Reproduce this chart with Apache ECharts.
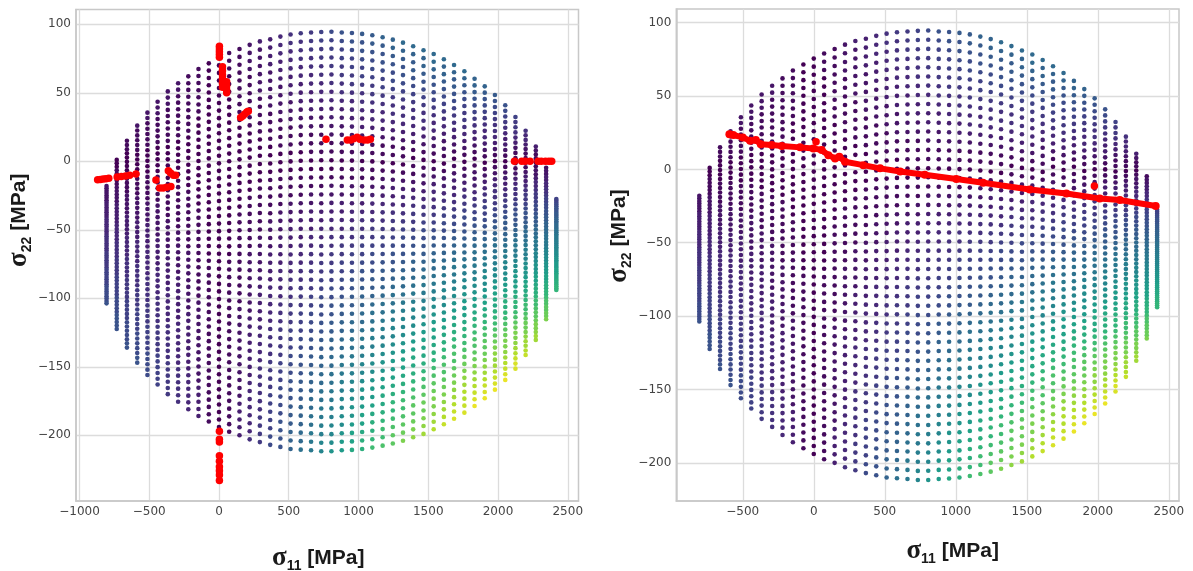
<!DOCTYPE html>
<html>
<head>
<meta charset="utf-8">
<style>html,body{margin:0;padding:0;background:#fff}#c{width:1193px;height:571px}</style>
<script src="https://cdn.jsdelivr.net/npm/echarts@6/dist/echarts.min.js"></script>
</head>
<body>
<div id="c"></div>
<script>
// sigma_11 of each vertical column of the failure envelope (MPa)
const sigma11Columns = [-806,-733,-660,-586,-513,-440,-367,-293,-220,-147,-73,0,73,147,220,293,367,440,513,586,660,733,806,880,953,1026,1099,1173,1246,1319,1392,1466,1539,1612,1685,1759,1832,1905,1978,2052,2125,2198,2271,2345,2418];
// sigma_22 of the 50 dots in each column (MPa)
const sigma22ByColumn = [
[-18,-19.7,-21.5,-23.2,-25,-26.7,-28.5,-30.2,-32,-33.7,-35.5,-37.2,-39,-40.7,-42.5,-44.2,-46,-47.7,-49.5,-51.2,-53,-54.7,-56.5,-58.2,-60,-61.7,-63.5,-65.2,-67,-68.7,-70.5,-72.2,-74,-75.7,-77.5,-79.2,-81,-82.7,-84.5,-86.2,-88,-89.7,-91.5,-93.2,-95,-96.7,-98.5,-100.2,-102,-103.7],
[1,-1.5,-4,-6.6,-9.1,-11.6,-14.1,-16.6,-19.1,-21.7,-24.2,-26.7,-29.2,-31.7,-34.3,-36.8,-39.3,-41.8,-44.3,-46.8,-49.4,-51.9,-54.4,-56.9,-59.4,-61.9,-64.5,-67,-69.5,-72,-74.5,-77.1,-79.6,-82.1,-84.6,-87.1,-89.6,-92.2,-94.7,-97.2,-99.7,-102.2,-104.8,-107.3,-109.8,-112.3,-114.8,-117.3,-119.9,-122.4],
[15,11.9,8.8,5.8,2.7,-0.4,-3.5,-6.6,-9.7,-12.7,-15.8,-18.9,-22,-25.1,-28.1,-31.2,-34.3,-37.4,-40.5,-43.6,-46.6,-49.7,-52.8,-55.9,-59,-62.1,-65.1,-68.2,-71.3,-74.4,-77.5,-80.5,-83.6,-86.7,-89.8,-92.9,-96,-99,-102.1,-105.2,-108.3,-111.4,-114.4,-117.5,-120.6,-123.7,-126.8,-129.9,-132.9,-136],
[26,22.5,18.9,15.4,11.9,8.3,4.8,1.3,-2.2,-5.8,-9.3,-12.8,-16.4,-19.9,-23.4,-27,-30.5,-34,-37.6,-41.1,-44.6,-48.2,-51.7,-55.2,-58.7,-62.3,-65.8,-69.3,-72.9,-76.4,-79.9,-83.5,-87,-90.5,-94.1,-97.6,-101.1,-104.6,-108.2,-111.7,-115.2,-118.8,-122.3,-125.8,-129.4,-132.9,-136.4,-140,-143.5,-147],
[35.5,31.6,27.7,23.8,19.9,16,12.1,8.1,4.2,0.3,-3.6,-7.5,-11.4,-15.3,-19.2,-23.1,-27,-30.9,-34.8,-38.8,-42.7,-46.6,-50.5,-54.4,-58.3,-62.2,-66.1,-70,-73.9,-77.8,-81.7,-85.6,-89.6,-93.5,-97.4,-101.3,-105.2,-109.1,-113,-116.9,-120.8,-124.7,-128.6,-132.5,-136.5,-140.4,-144.3,-148.2,-152.1,-156],
[43.5,39.3,35.1,30.9,26.6,22.4,18.2,14,9.8,5.6,1.4,-2.9,-7.1,-11.3,-15.5,-19.7,-23.9,-28.1,-32.4,-36.6,-40.8,-45,-49.2,-53.4,-57.6,-61.9,-66.1,-70.3,-74.5,-78.7,-82.9,-87.1,-91.3,-95.6,-99.8,-104,-108.2,-112.4,-116.6,-120.8,-125.1,-129.3,-133.5,-137.7,-141.9,-146.1,-150.3,-154.6,-158.8,-163],
[51,46.5,42,37.5,33,28.5,23.9,19.4,14.9,10.4,5.9,1.4,-3.1,-7.6,-12.1,-16.7,-21.2,-25.7,-30.2,-34.7,-39.2,-43.7,-48.2,-52.7,-57.2,-61.8,-66.3,-70.8,-75.3,-79.8,-84.3,-88.8,-93.3,-97.8,-102.3,-106.9,-111.4,-115.9,-120.4,-124.9,-129.4,-133.9,-138.4,-142.9,-147.4,-152,-156.5,-161,-165.5,-170],
[57,52.3,47.5,42.8,38,33.3,28.5,23.8,19,14.3,9.5,4.8,0,-4.7,-9.4,-14.2,-18.9,-23.7,-28.4,-33.2,-37.9,-42.6,-47.4,-52.1,-56.9,-61.6,-66.4,-71.1,-75.9,-80.6,-85.4,-90.1,-94.8,-99.6,-104.3,-109.1,-113.8,-118.6,-123.3,-128.1,-132.8,-137.5,-142.3,-147,-151.8,-156.5,-161.3,-166,-170.8,-175.5],
[62,57,52.1,47.1,42.2,37.2,32.2,27.3,22.3,17.4,12.4,7.5,2.5,-2.5,-7.4,-12.4,-17.3,-22.3,-27.3,-32.2,-37.2,-42.1,-47.1,-52.1,-57,-62,-66.9,-71.9,-76.9,-81.8,-86.8,-91.7,-96.7,-101.6,-106.6,-111.6,-116.5,-121.5,-126.4,-131.4,-136.4,-141.3,-146.3,-151.2,-156.2,-161.2,-166.1,-171.1,-176,-181],
[67.4,62.2,57.1,51.9,46.7,41.5,36.4,31.2,26,20.9,15.7,10.5,5.3,0.2,-5,-10.2,-15.3,-20.5,-25.7,-30.8,-36,-41.2,-46.4,-51.5,-56.7,-61.9,-67,-72.2,-77.4,-82.6,-87.7,-92.9,-98.1,-103.2,-108.4,-113.6,-118.8,-123.9,-129.1,-134.3,-139.4,-144.6,-149.8,-155,-160.1,-165.3,-170.5,-175.6,-180.8,-186],
[71.5,66.2,60.8,55.5,50.2,44.8,39.5,34.1,28.8,23.5,18.1,12.8,7.5,2.1,-3.2,-8.6,-13.9,-19.2,-24.6,-29.9,-35.2,-40.6,-45.9,-51.3,-56.6,-61.9,-67.3,-72.6,-77.9,-83.3,-88.6,-94,-99.3,-104.6,-110,-115.3,-120.6,-126,-131.3,-136.6,-142,-147.3,-152.7,-158,-163.3,-168.7,-174,-179.3,-184.7,-190],
[75.5,70,64.5,59,53.5,48,42.5,37,31.5,26,20.5,15,9.5,4,-1.5,-7,-12.5,-18,-23.5,-29,-34.5,-40,-45.5,-51,-56.5,-62,-67.5,-73,-78.5,-84,-89.5,-95,-100.5,-106,-111.5,-117,-122.5,-128,-133.5,-139,-144.5,-150,-155.5,-161,-166.5,-172,-177.5,-183,-188.5,-194],
[79,73.4,67.7,62.1,56.4,50.8,45.1,39.5,33.9,28.2,22.6,16.9,11.3,5.6,0,-5.6,-11.3,-16.9,-22.6,-28.2,-33.9,-39.5,-45.1,-50.8,-56.4,-62.1,-67.7,-73.4,-79,-84.6,-90.3,-95.9,-101.6,-107.2,-112.9,-118.5,-124.1,-129.8,-135.4,-141.1,-146.7,-152.4,-158,-163.6,-169.3,-174.9,-180.6,-186.2,-191.9,-197.5],
[82,76.2,70.5,64.7,59,53.2,47.5,41.7,36,30.2,24.5,18.7,12.9,7.2,1.4,-4.3,-10.1,-15.8,-21.6,-27.3,-33.1,-38.9,-44.6,-50.4,-56.1,-61.9,-67.6,-73.4,-79.1,-84.9,-90.7,-96.4,-102.2,-107.9,-113.7,-119.4,-125.2,-130.9,-136.7,-142.4,-148.2,-154,-159.7,-165.5,-171.2,-177,-182.7,-188.5,-194.2,-200],
[85,79.1,73.2,67.4,61.5,55.6,49.7,43.9,38,32.1,26.2,20.3,14.5,8.6,2.7,-3.2,-9,-14.9,-20.8,-26.7,-32.6,-38.4,-44.3,-50.2,-56.1,-61.9,-67.8,-73.7,-79.6,-85.4,-91.3,-97.2,-103.1,-109,-114.8,-120.7,-126.6,-132.5,-138.3,-144.2,-150.1,-156,-161.9,-167.7,-173.6,-179.5,-185.4,-191.2,-197.1,-203],
[87.5,81.5,75.6,69.6,63.6,57.7,51.7,45.7,39.8,33.8,27.8,21.8,15.9,9.9,4,-2,-8,-14,-19.9,-25.9,-31.9,-37.8,-43.8,-49.8,-55.8,-61.7,-67.7,-73.7,-79.6,-85.6,-91.6,-97.5,-103.5,-109.5,-115.4,-121.4,-127.4,-133.4,-139.3,-145.3,-151.3,-157.2,-163.2,-169.2,-175.1,-181.1,-187.1,-193,-199,-205],
[89,83,76.9,70.9,64.8,58.8,52.8,46.7,40.7,34.6,28.6,22.5,16.5,10.5,4.4,-1.6,-7.7,-13.7,-19.7,-25.8,-31.8,-37.9,-43.9,-50,-56,-62,-68.1,-74.1,-80.2,-86.2,-92.2,-98.3,-104.3,-110.4,-116.4,-122.4,-128.5,-134.5,-140.6,-146.6,-152.6,-158.7,-164.7,-170.8,-176.8,-182.8,-188.9,-194.9,-201,-207],
[91,84.9,78.8,72.7,66.6,60.4,54.3,48.2,42.1,36,29.9,23.8,17.7,11.5,5.4,-0.7,-6.8,-12.9,-19,-25.1,-31.2,-37.4,-43.5,-49.6,-55.7,-61.8,-67.9,-74,-80.1,-86.2,-92.4,-98.5,-104.6,-110.7,-116.8,-122.9,-129,-135.1,-141.3,-147.4,-153.5,-159.6,-165.7,-171.8,-177.9,-184,-190.2,-196.3,-202.4,-208.5],
[92.5,86.3,80.2,74,67.8,61.6,55.5,49.3,43.1,36.9,30.8,24.6,18.4,12.3,6.1,-0.1,-6.3,-12.4,-18.6,-24.8,-31,-37.1,-43.3,-49.5,-55.7,-61.8,-68,-74.2,-80.3,-86.5,-92.7,-98.9,-105,-111.2,-117.4,-123.6,-129.7,-135.9,-142.1,-148.2,-154.4,-160.6,-166.8,-172.9,-179.1,-185.3,-191.5,-197.6,-203.8,-210],
[93.5,87.3,81.1,74.9,68.7,62.5,56.3,50.1,43.9,37.7,31.5,25.3,19.1,12.9,6.6,0.4,-5.8,-12,-18.2,-24.4,-30.6,-36.8,-43,-49.2,-55.4,-61.6,-67.8,-74,-80.2,-86.4,-92.6,-98.8,-105,-111.2,-117.4,-123.6,-129.8,-136,-142.2,-148.5,-154.7,-160.9,-167.1,-173.3,-179.5,-185.7,-191.9,-198.1,-204.3,-210.5],
[94,87.8,81.6,75.3,69.1,62.9,56.7,50.4,44.2,38,31.8,25.5,19.3,13.1,6.9,0.6,-5.6,-11.8,-18,-24.3,-30.5,-36.7,-42.9,-49.2,-55.4,-61.6,-67.8,-74,-80.3,-86.5,-92.7,-98.9,-105.2,-111.4,-117.6,-123.8,-130.1,-136.3,-142.5,-148.7,-155,-161.2,-167.4,-173.6,-179.9,-186.1,-192.3,-198.5,-204.8,-211],
[94.4,88.2,81.9,75.7,69.4,63.2,56.9,50.7,44.4,38.2,31.9,25.7,19.4,13.2,6.9,0.7,-5.6,-11.8,-18.1,-24.3,-30.6,-36.8,-43,-49.3,-55.5,-61.8,-68,-74.3,-80.5,-86.8,-93,-99.3,-105.5,-111.8,-118,-124.3,-130.5,-136.8,-143,-149.3,-155.5,-161.8,-168,-174.2,-180.5,-186.7,-193,-199.2,-205.5,-211.7],
[94.6,88.3,82.1,75.8,69.6,63.3,57.1,50.8,44.6,38.3,32.1,25.8,19.6,13.3,7.1,0.8,-5.4,-11.7,-17.9,-24.2,-30.4,-36.7,-42.9,-49.2,-55.4,-61.7,-67.9,-74.2,-80.4,-86.7,-92.9,-99.2,-105.4,-111.7,-117.9,-124.2,-130.4,-136.7,-142.9,-149.2,-155.4,-161.7,-167.9,-174.2,-180.4,-186.7,-192.9,-199.2,-205.4,-211.7],
[94,87.8,81.6,75.3,69.1,62.9,56.7,50.4,44.2,38,31.8,25.5,19.3,13.1,6.9,0.6,-5.6,-11.8,-18,-24.3,-30.5,-36.7,-42.9,-49.2,-55.4,-61.6,-67.8,-74,-80.3,-86.5,-92.7,-98.9,-105.2,-111.4,-117.6,-123.8,-130.1,-136.3,-142.5,-148.7,-155,-161.2,-167.4,-173.6,-179.9,-186.1,-192.3,-198.5,-204.8,-211],
[93.6,87.4,81.2,75,68.8,62.6,56.3,50.1,43.9,37.7,31.5,25.3,19.1,12.9,6.7,0.5,-5.8,-12,-18.2,-24.4,-30.6,-36.8,-43,-49.2,-55.4,-61.6,-67.9,-74.1,-80.3,-86.5,-92.7,-98.9,-105.1,-111.3,-117.5,-123.7,-130,-136.2,-142.4,-148.6,-154.8,-161,-167.2,-173.4,-179.6,-185.8,-192.1,-198.3,-204.5,-210.7],
[93,86.8,80.6,74.4,68.3,62.1,55.9,49.7,43.5,37.3,31.2,25,18.8,12.6,6.4,0.2,-5.9,-12.1,-18.3,-24.5,-30.7,-36.9,-43,-49.2,-55.4,-61.6,-67.8,-74,-80.2,-86.3,-92.5,-98.7,-104.9,-111.1,-117.3,-123.4,-129.6,-135.8,-142,-148.2,-154.4,-160.5,-166.7,-172.9,-179.1,-185.3,-191.5,-197.6,-203.8,-210],
[92,85.9,79.7,73.6,67.4,61.3,55.1,49,42.9,36.7,30.6,24.4,18.3,12.1,6,-0.1,-6.3,-12.4,-18.6,-24.7,-30.9,-37,-43.1,-49.3,-55.4,-61.6,-67.7,-73.9,-80,-86.1,-92.3,-98.4,-104.6,-110.7,-116.9,-123,-129.1,-135.3,-141.4,-147.6,-153.7,-159.9,-166,-172.1,-178.3,-184.4,-190.6,-196.7,-202.9,-209],
[90.5,84.4,78.3,72.2,66.2,60.1,54,47.9,41.8,35.8,29.7,23.6,17.5,11.4,5.3,-0.8,-6.8,-12.9,-19,-25.1,-31.2,-37.3,-43.3,-49.4,-55.5,-61.6,-67.7,-73.8,-79.9,-85.9,-92,-98.1,-104.2,-110.3,-116.4,-122.4,-128.5,-134.6,-140.7,-146.8,-152.9,-159,-165,-171.1,-177.2,-183.3,-189.4,-195.5,-201.5,-207.6],
[88.8,82.8,76.8,70.8,64.7,58.7,52.7,46.7,40.7,34.7,28.6,22.6,16.6,10.6,4.6,-1.4,-7.5,-13.5,-19.5,-25.5,-31.5,-37.5,-43.6,-49.6,-55.6,-61.6,-67.6,-73.6,-79.6,-85.7,-91.7,-97.7,-103.7,-109.7,-115.7,-121.8,-127.8,-133.8,-139.8,-145.8,-151.8,-157.9,-163.9,-169.9,-175.9,-181.9,-187.9,-194,-200,-206],
[86.6,80.7,74.7,68.8,62.9,56.9,51,45.1,39.2,33.2,27.3,21.4,15.4,9.5,3.6,-2.4,-8.3,-14.2,-20.2,-26.1,-32,-38,-43.9,-49.8,-55.7,-61.7,-67.6,-73.5,-79.5,-85.4,-91.3,-97.3,-103.2,-109.1,-115.1,-121,-126.9,-132.8,-138.8,-144.7,-150.6,-156.6,-162.5,-168.4,-174.4,-180.3,-186.2,-192.2,-198.1,-204],
[84,78.2,72.3,66.5,60.7,54.9,49,43.2,37.4,31.6,25.7,19.9,14.1,8.2,2.4,-3.4,-9.2,-15.1,-20.9,-26.7,-32.5,-38.4,-44.2,-50,-55.9,-61.7,-67.5,-73.3,-79.2,-85,-90.8,-96.6,-102.5,-108.3,-114.1,-120,-125.8,-131.6,-137.4,-143.3,-149.1,-154.9,-160.7,-166.6,-172.4,-178.2,-184.1,-189.9,-195.7,-201.5],
[81,75.3,69.6,63.9,58.1,52.4,46.7,41,35.3,29.6,23.9,18.1,12.4,6.7,1,-4.7,-10.4,-16.1,-21.9,-27.6,-33.3,-39,-44.7,-50.4,-56.1,-61.9,-67.6,-73.3,-79,-84.7,-90.4,-96.1,-101.9,-107.6,-113.3,-119,-124.7,-130.4,-136.1,-141.9,-147.6,-153.3,-159,-164.7,-170.4,-176.1,-181.9,-187.6,-193.3,-199],
[78.3,72.7,67.1,61.5,55.9,50.4,44.8,39.2,33.6,28,22.4,16.8,11.2,5.6,0,-5.6,-11.1,-16.7,-22.3,-27.9,-33.5,-39.1,-44.7,-50.3,-55.9,-61.5,-67.1,-72.7,-78.2,-83.8,-89.4,-95,-100.6,-106.2,-111.8,-117.4,-123,-128.6,-134.1,-139.7,-145.3,-150.9,-156.5,-162.1,-167.7,-173.3,-178.9,-184.5,-190.1,-195.6],
[74.5,69.1,63.6,58.2,52.7,47.3,41.9,36.4,31,25.5,20.1,14.7,9.2,3.8,-1.7,-7.1,-12.5,-18,-23.4,-28.8,-34.3,-39.7,-45.2,-50.6,-56,-61.5,-66.9,-72.4,-77.8,-83.2,-88.7,-94.1,-99.5,-105,-110.4,-115.9,-121.3,-126.7,-132.2,-137.6,-143.1,-148.5,-153.9,-159.4,-164.8,-170.2,-175.7,-181.1,-186.6,-192],
[70.3,65,59.8,54.5,49.2,44,38.7,33.4,28.1,22.9,17.6,12.3,7.1,1.8,-3.5,-8.8,-14,-19.3,-24.6,-29.8,-35.1,-40.4,-45.7,-50.9,-56.2,-61.5,-66.7,-72,-77.3,-82.6,-87.8,-93.1,-98.4,-103.6,-108.9,-114.2,-119.5,-124.7,-130,-135.3,-140.5,-145.8,-151.1,-156.4,-161.6,-166.9,-172.2,-177.4,-182.7,-188],
[65.7,60.6,55.5,50.4,45.4,40.3,35.2,30.1,25,19.9,14.8,9.7,4.7,-0.4,-5.5,-10.6,-15.7,-20.8,-25.8,-31,-36,-41.1,-46.2,-51.3,-56.4,-61.5,-66.6,-71.6,-76.7,-81.8,-86.9,-92,-97.1,-102.1,-107.2,-112.3,-117.4,-122.5,-127.6,-132.7,-137.7,-142.8,-147.9,-153,-158.1,-163.2,-168.3,-173.3,-178.4,-183.5],
[60.3,55.4,50.5,45.7,40.8,35.9,31,26.2,21.3,16.4,11.5,6.7,1.8,-3.1,-8,-12.8,-17.7,-22.6,-27.5,-32.3,-37.2,-42.1,-47,-51.8,-56.7,-61.6,-66.5,-71.3,-76.2,-81.1,-86,-90.9,-95.7,-100.6,-105.5,-110.4,-115.2,-120.1,-125,-129.9,-134.7,-139.6,-144.5,-149.4,-154.2,-159.1,-164,-168.9,-173.7,-178.6],
[54.7,50.1,45.4,40.8,36.1,31.5,26.8,22.2,17.5,12.9,8.2,3.6,-1.1,-5.7,-10.4,-15,-19.7,-24.3,-29,-33.6,-38.2,-42.9,-47.5,-52.2,-56.8,-61.5,-66.1,-70.8,-75.4,-80.1,-84.7,-89.4,-94,-98.7,-103.3,-108,-112.6,-117.3,-121.9,-126.6,-131.2,-135.8,-140.5,-145.1,-149.8,-154.4,-159.1,-163.7,-168.4,-173],
[48.4,44,39.6,35.2,30.8,26.5,22.1,17.7,13.3,8.9,4.5,0.1,-4.3,-8.7,-13.1,-17.5,-21.8,-26.2,-30.6,-35,-39.4,-43.8,-48.2,-52.6,-57,-61.4,-65.7,-70.1,-74.5,-78.9,-83.3,-87.7,-92.1,-96.5,-100.9,-105.3,-109.6,-114,-118.4,-122.8,-127.2,-131.6,-136,-140.4,-144.8,-149.2,-153.5,-157.9,-162.3,-166.7],
[40.9,36.8,32.7,28.6,24.5,20.4,16.3,12.3,8.2,4.1,0,-4.1,-8.2,-12.3,-16.4,-20.5,-24.6,-28.7,-32.8,-36.8,-40.9,-45,-49.1,-53.2,-57.3,-61.4,-65.5,-69.6,-73.7,-77.8,-81.9,-86,-90.1,-94.1,-98.2,-102.3,-106.4,-110.5,-114.6,-118.7,-122.8,-126.9,-131,-135.1,-139.2,-143.2,-147.3,-151.4,-155.5,-159.6],
[32.3,28.6,24.8,21.1,17.3,13.6,9.8,6.1,2.3,-1.4,-5.2,-8.9,-12.7,-16.4,-20.2,-23.9,-27.7,-31.4,-35.2,-38.9,-42.7,-46.4,-50.2,-53.9,-57.7,-61.4,-65.2,-68.9,-72.7,-76.4,-80.2,-83.9,-87.7,-91.4,-95.2,-98.9,-102.7,-106.4,-110.2,-113.9,-117.7,-121.4,-125.2,-128.9,-132.7,-136.4,-140.2,-143.9,-147.7,-151.4],
[22.3,19,15.6,12.3,8.9,5.6,2.3,-1.1,-4.4,-7.8,-11.1,-14.4,-17.8,-21.1,-24.5,-27.8,-31.2,-34.5,-37.8,-41.2,-44.5,-47.9,-51.2,-54.5,-57.9,-61.2,-64.6,-67.9,-71.2,-74.6,-77.9,-81.3,-84.6,-88,-91.3,-94.6,-98,-101.3,-104.7,-108,-111.3,-114.7,-118,-121.4,-124.7,-128,-131.4,-134.7,-138.1,-141.4],
[10.7,7.8,4.9,2.1,-0.8,-3.7,-6.6,-9.5,-12.3,-15.2,-18.1,-21,-23.9,-26.7,-29.6,-32.5,-35.4,-38.3,-41.1,-44,-46.9,-49.8,-52.7,-55.5,-58.4,-61.3,-64.2,-67.1,-69.9,-72.8,-75.7,-78.6,-81.5,-84.3,-87.2,-90.1,-93,-95.9,-98.7,-101.6,-104.5,-107.4,-110.3,-113.1,-116,-118.9,-121.8,-124.7,-127.5,-130.4],
[-4.7,-7,-9.2,-11.5,-13.7,-16,-18.2,-20.5,-22.8,-25,-27.3,-29.5,-31.8,-34,-36.3,-38.6,-40.8,-43.1,-45.3,-47.6,-49.8,-52.1,-54.4,-56.6,-58.9,-61.1,-63.4,-65.6,-67.9,-70.2,-72.4,-74.7,-76.9,-79.2,-81.4,-83.7,-86,-88.2,-90.5,-92.7,-95,-97.2,-99.5,-101.8,-104,-106.3,-108.5,-110.8,-113,-115.3],
[-27.5,-28.9,-30.2,-31.6,-32.9,-34.3,-35.6,-37,-38.4,-39.7,-41.1,-42.4,-43.8,-45.1,-46.5,-47.9,-49.2,-50.6,-51.9,-53.3,-54.6,-56,-57.4,-58.7,-60.1,-61.4,-62.8,-64.1,-65.5,-66.9,-68.2,-69.6,-70.9,-72.3,-73.6,-75,-76.4,-77.7,-79.1,-80.4,-81.8,-83.1,-84.5,-85.9,-87.2,-88.6,-89.9,-91.3,-92.6,-94]
];
// colour reading of each dot, base 36: 0 = darkest purple ... z = yellow
const colourLevelsByColumn = [
"22222223333333444444455555556666666777777788888889",
"00011111222223333334444455555666667777778888899999",
"11100000111112222233333444445555566666777778888899",
"21111100001111122222333344444555556666777778888899",
"22111110000011111222233333444445555566667777788888",
"22211111000001111122222233333444445555566666777777",
"22211111100000011111122222333333444444555555666666",
"22111111100000001111111222222233333334444444555555",
"11111111100000000111111111222222222333333333444444",
"11111110000000000000111111111111122222222222233333",
"00000000000000000000000000011111111111111111111111",
"00000000000000000000000000000000000000000000000000",
"11100000000000000000000000011111111111111111111111",
"11111111100000000000011111111111122222222222233333",
"22221111111000000001111111222222223333333344444445",
"32222221111100000011111122222333333444445555556666",
"33332222211110000111112222333344444555566667777788",
"44433322221111000111122233334444555666677788889999",
"55444333222111000111222333444555666777888999aaabbb",
"65554433322211000111223334445566677788999aaabbbccd",
"66655443332211100112233344556667788899aabbbccddeee",
"776655443322111001122334455667788899aabbccddeeffgg",
"8776655443322110012233445566778899aabbccddeeffgghi",
"98776655433221101122334456677889aabbccdeeffgghhijj",
"9987766544332110112234455677899aabccddeffgghiijkkl",
"a998776554332110112334556778"+"99abbccdeefgghiijkklmm",
"aa988766544321101123445667889aabcddeffghhijjklmmno",
"ba99877654432110122345567789aabcddeffghiijkllmnoop",
"bba9887655432110123345667899abcddefgghijjklmnnopqq",
"cba998765543211012344567889abccdefgghijkklmnoopqrs",
"cbaa9876554321011234566789abbcdefgghijkllmnopqqrst",
"cbba9876554321012234567889abcdeefghijkklmnopqrrstu",
"ccba987654432101234456789abccdefghijkklmnopqrsstuv",
"cbba987654322101234567889abcdefgghijklmnoppqrstuvw",
"cbaa98765432101233456789abcdeefghijklmnoppqrstuvwx",
"cba98766543210123456788"+"9abcdefghijjklmnopqrstuvvwx",
"bba98765432101223456789abcddefghijklmnoppqrstuvwxy",
"ba98765443210123456778"+"9abcdefghhijklmnopqqrstuvwxy",
"a987655432101234556789abcddefghijkllmnopqrsttuvwxy",
"987654332101233456789aabcdefgghijklmmnopqrsstuvwxy",
"7665432110123455678"+"99abcdeefghijjklmnnopqrsstuvwxx",
"54432110123345667899abccdeffghiijkllmnoopqrrstuuvw",
"321101223445667889aabccdeefgghiijkklmmnoopqqrsstuu",
"1223344556778899aabbccddeefgghhiijjkklmmnnoppqqrrs",
"77788999aaabbbcccdddeeefffggghhhiiijjjkkklllmmmnnn"
];
// red critical points, left panel [sigma11, sigma22]
const criticalScattered = [[-870,-13.5],[-850,-13.3],[-830,-13],[-810,-12.7],[-790,-12.4],[-730,-11.5],[-700,-11.2],[-670,-10.8],[-640,-10.2],[-595,-9.3],[-452,-13.7],[-425,-19.5],[-400,-19.5],[-375,-19],[-345,-18.5],[-363,-6.9],[-347,-8.5],[-327,-10.2],[-311,-10.2],[3,84],[3,82],[3,80],[3,78],[3,76],[25,69],[25,66],[25,63],[25,60],[25,57],[25,54],[55,58],[55,55],[55,52],[55,50],[155,32],[170,33],[185,34.5],[200,36],[210,36.5],[767,16],[920,15.5],[945,15.5],[965,16.5],[990,17.5],[1010,16],[1040,15.5],[1065,15.5],[1085,16],[2118,0],[2170,0],[2195,0],[2230,0],[2287,0],[2310,0],[2340,0],[2365,0],[2385,0],[3,-197],[3,-203],[3,-205],[3,-215],[3,-219],[3,-223],[3,-226],[3,-229],[3,-233]];
// red path and its two stray points, right panel
const criticalPath = [[-594,24],[-567,23.4],[-500,21.8],[-448,19.5],[-408,20],[-373,17.2],[-296,16.6],[-225,15.9],[-96,15],[-3,14.3],[56,13.2],[103,9.7],[150,7.5],[180,8.6],[220,5.2],[349,2.9],[467,0.7],[608,-1.4],[782,-3.7],[1004,-6.6],[1192,-9.1],[1521,-13.7],[1779,-16.4],[2014,-19.8],[2155,-20.9],[2408,-25]];
const criticalStray = [[16,18.8],[1976,-11.4]];
// tick labels
const xTicksLeft = [-1000,-500,0,500,1000,1500,2000,2500];
const xTicksRight = [-500,0,500,1000,1500,2000,2500];
const yTicks = [-200,-150,-100,-50,0,50,100];
const viridis = ['#440154','#482878','#3e4989','#31688e','#26828e','#1f9e89','#35b779','#6ece58','#b5de2b','#fde725'];

const lattice = [];
sigma11Columns.forEach((x, c) => {
  sigma22ByColumn[c].forEach((y, i) => {
    lattice.push([x, y, parseInt(colourLevelsByColumn[c][i] || '0', 36) / 35]);
  });
});

const fmt = v => String(v).replace('-', '\u2212');
const rich = {
  s: {fontFamily: 'Liberation Serif', fontWeight: 'bold', fontSize: 27, color: '#1a1a1a', lineHeight: 30, verticalAlign: 'middle'},
  n: {fontFamily: 'Liberation Sans', fontWeight: 'bold', fontSize: 14, color: '#1a1a1a', lineHeight: 30, verticalAlign: 'bottom', padding: [8, 0, 0, 0]},
  t: {fontFamily: 'Liberation Sans', fontWeight: 'bold', fontSize: 21, color: '#1a1a1a', lineHeight: 30, verticalAlign: 'middle'}
};
const cartesianStyle = ticks => ({
  axisLine: {show: true, onZero: false, lineStyle: {color: '#c8c8c8', width: 1.5}},
  axisTick: {show: false, customValues: ticks},
  splitLine: {show: true, lineStyle: {color: '#dcdcdc', width: 1.3}},
  axisLabel: {customValues: ticks, formatter: fmt, fontFamily: 'DejaVu Sans', fontSize: 12, color: '#444', margin: 5, hideOverlap: false, showMinLabel: true, showMaxLabel: true}
});
const xAxis = (idx, ticks, min, max, gap, pad) => Object.assign({type: 'value', gridIndex: idx, min, max, name: '{s|\u03c3}{n|11}{t| [MPa]}', nameLocation: 'middle', nameGap: gap, nameTextStyle: {rich, padding: pad}}, cartesianStyle(ticks));
const yAxis = (idx, min, max, gap, pad) => Object.assign({type: 'value', gridIndex: idx, min, max, name: '{s|\u03c3}{n|22}{t| [MPa]}', nameLocation: 'middle', nameRotate: 90, nameGap: gap, nameTextStyle: {rich, padding: pad}}, cartesianStyle(yTicks));
const dots = idx => ({type: 'scatter', xAxisIndex: idx, yAxisIndex: idx, data: lattice, symbolSize: 4.6, itemStyle: {opacity: 1}, silent: true, animation: false, large: false, z: 2});
const red = {color: '#ff0000', opacity: 1};

const chart = echarts.init(document.getElementById('c'), null, {renderer: 'canvas'});
chart.setOption({
  animation: false,
  backgroundColor: '#fff',
  grid: [
    {left: 76, right: 614.5, top: 9.5, bottom: 70, outerBoundsMode: 'none', containLabel: false, show: true, borderColor: '#c8c8c8', borderWidth: 1.5, backgroundColor: '#fff'},
    {left: 676.3, right: 14, top: 9, bottom: 70, outerBoundsMode: 'none', containLabel: false, show: true, borderColor: '#c8c8c8', borderWidth: 1.5, backgroundColor: '#fff'}
  ],
  xAxis: [xAxis(0, xTicksLeft, -1025, 2577, 42, [0, 18, 0, 0]), xAxis(1, xTicksRight, -968, 2572, 35, [0, 0, 0, 50])],
  yAxis: [yAxis(0, -248, 110.8, 42, [0, 0, 0, 70]), yAxis(1, -226, 109.3, 25, [0, 0, 0, 38])],
  visualMap: {show: false, type: 'continuous', seriesIndex: [0, 2], dimension: 2, min: 0, max: 1, inRange: {color: viridis}},
  series: [
    dots(0),
    {type: 'scatter', xAxisIndex: 0, yAxisIndex: 0, data: criticalScattered, symbolSize: 7.5, itemStyle: red, silent: true, z: 5},
    dots(1),
    {type: 'line', xAxisIndex: 1, yAxisIndex: 1, data: criticalPath, showSymbol: true, symbol: 'circle', symbolSize: 8, lineStyle: {color: '#ff0000', width: 6, cap: 'round', join: 'round'}, itemStyle: red, silent: true, z: 5},
    {type: 'scatter', xAxisIndex: 1, yAxisIndex: 1, data: criticalStray, symbolSize: 7.5, itemStyle: red, silent: true, z: 5}
  ]
});
</script>
</body>
</html>
